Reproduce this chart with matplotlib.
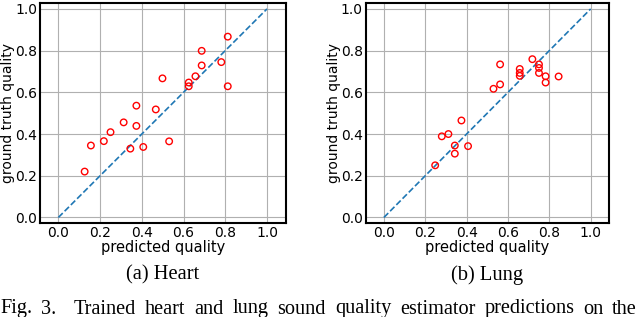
import matplotlib
matplotlib.use("Agg")
import matplotlib.pyplot as plt

# Heart: predicted vs ground truth quality
heart_pred = [0.126, 0.156, 0.218, 0.250, 0.313, 0.345, 0.374, 0.374, 0.407, 0.467,
              0.499, 0.531, 0.625, 0.625, 0.657, 0.687, 0.687, 0.781, 0.812, 0.812]
heart_true = [0.220, 0.345, 0.366, 0.409, 0.456, 0.330, 0.439, 0.536, 0.338, 0.518,
              0.667, 0.365, 0.647, 0.629, 0.677, 0.799, 0.729, 0.745, 0.867, 0.629]

# Lung: predicted vs ground truth quality
lung_pred = [0.248, 0.280, 0.312, 0.343, 0.343, 0.375, 0.407, 0.530, 0.562, 0.562,
             0.657, 0.657, 0.657, 0.718, 0.750, 0.750, 0.750, 0.782, 0.782, 0.845]
lung_true = [0.250, 0.389, 0.400, 0.345, 0.306, 0.465, 0.342, 0.617, 0.734, 0.638,
             0.712, 0.693, 0.679, 0.759, 0.734, 0.717, 0.693, 0.677, 0.647, 0.676]

ticks = [0.0, 0.2, 0.4, 0.6, 0.8, 1.0]
captions = ["(a) Heart", "(b) Lung"]
fig_caption = "Fig. 3. Trained heart and lung sound quality estimator predictions on the"

fig = plt.figure(figsize=(6.4, 3.17), dpi=100)
ax1 = fig.add_axes([0.0625, 0.2956, 0.384, 0.696])
ax2 = fig.add_axes([0.5714, 0.2956, 0.3806, 0.696])

for ax, xs, ys, cap in [(ax1, heart_pred, heart_true, captions[0]),
                        (ax2, lung_pred, lung_true, captions[1])]:
    ax.plot([0, 1], [0, 1], "--", color="#1f77b4", lw=1.2, zorder=2)
    ax.scatter(xs, ys, s=22, facecolors="none", edgecolors="red", linewidths=1.0, zorder=3)
    ax.set_xlim(-0.088, 1.09)
    ax.set_ylim(-0.028, 1.03)
    ax.set_xticks(ticks)
    ax.set_yticks(ticks)
    ax.grid(True, color="#b0b0b0", lw=0.8)
    ax.set_axisbelow(True)
    ax.tick_params(length=0, labelsize=10, pad=2)
    for s in ax.spines.values():
        s.set_linewidth(1.5)
        s.set_color("black")
    ax.set_xlabel("predicted quality", fontsize=10.5, labelpad=0)
    ax.set_ylabel("ground truth quality", fontsize=10, labelpad=0)
    # subfigure caption below each panel
    pos = ax.get_position()
    fig.text((pos.x0 + pos.x1) / 2, 1 - 275 / 317, cap, ha="center", va="center",
             fontsize=14.8, family="Liberation Serif")

# justified figure caption, cut off at the bottom like the page crop
words = fig_caption.split(" ")
renderer = fig.canvas.get_renderer()
texts = [fig.text(0, 1 - 309 / 317, w, ha="left", va="center",
                  fontsize=14.6, family="Liberation Serif") for w in words]
widths = [t.get_window_extent(renderer).width for t in texts]
line_w = 637.0
gap = (line_w - sum(widths)) / (len(words))  # one extra gap after "3."
x = 0.0
for i, (t, w) in enumerate(zip(texts, widths)):
    t.set_x(x / 640)
    x += w + gap * (2 if i == 1 else 1)

fig.savefig("out.png", dpi=100)
